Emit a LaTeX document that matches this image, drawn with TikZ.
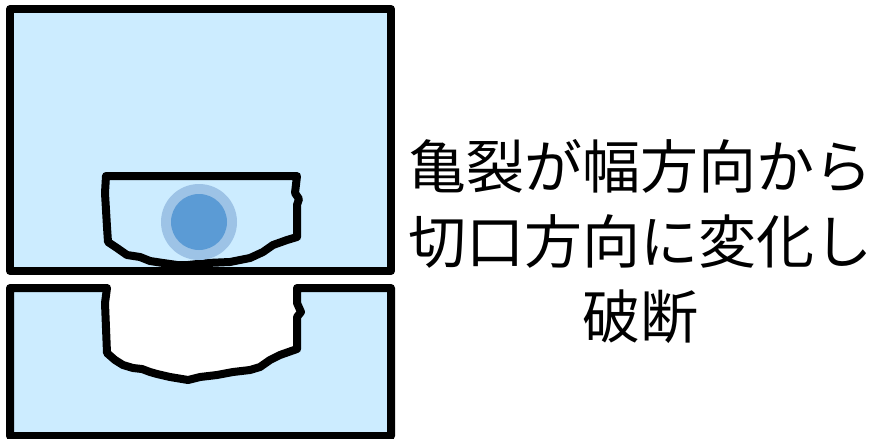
\documentclass[tikz,border=0pt]{standalone}
\usepackage{fontspec}
\newfontfamily\cjk{Noto Sans CJK JP}
\definecolor{ice}{HTML}{CCECFF}
\definecolor{haloblue}{HTML}{9DC3E6}
\definecolor{coreblue}{HTML}{5B9BD5}

\begin{document}
\begin{tikzpicture}[x=1pt,y=-1pt,
    part/.style={fill=ice,draw=black,line width=8pt,line join=round},
    edge/.style={draw=black,line width=8pt,line join=round,line cap=round}]
    \useasboundingbox (0,0) rectangle (873,439);
    % upper half with the notch
    \filldraw[part] (10,9) rectangle (391,271);
    \filldraw[part] (106,176)--(297,176)--(295,193)--(299,199)--(297,205)--(297,237)
        --(287,240)--(273,245)--(263,252)--(250,258)--(230,262)--(207,263)--(188,265)
        --(177,265)--(163,263)--(150,261)--(140,257)--(127,255)--(117,248)--(108,242)
        --(107,227)--(105,193)--cycle;
    \fill[haloblue] (199,222) circle (38);
    \fill[coreblue] (199,222) circle (28);
    % lower half, notch left open
    \fill[ice] (10,288)--(10,436)--(391,436)--(391,288)--(297,288)--(297,303)--(301,312)
        --(297,317)--(297,349)--(280,355)--(270,360)--(260,367)--(250,370)--(233,372)
        --(217,375)--(200,377)--(188,380)--(170,377)--(157,374)--(150,372)--(142,369)
        --(133,368)--(123,365)--(115,360)--(107,353)--(105,303)--(107,288)--cycle;
    \draw[edge] (107,288)--(10,288)--(10,436)--(391,436)--(391,288)--(297,288)--(297,303)--(301,312)
        --(297,317)--(297,349)--(280,355)--(270,360)--(260,367)--(250,370)--(233,372)
        --(217,375)--(200,377)--(188,380)--(170,377)--(157,374)--(150,372)--(142,369)
        --(133,368)--(123,365)--(115,360)--(107,353)--(105,303)--(107,288);
    \node[align=center,font=\cjk\fontsize{58}{75}\selectfont,inner sep=0pt] (caption) at (640,242)
        {亀裂が幅方向から\\切口方向に変化し\\破断};
\end{tikzpicture}
\end{document}
